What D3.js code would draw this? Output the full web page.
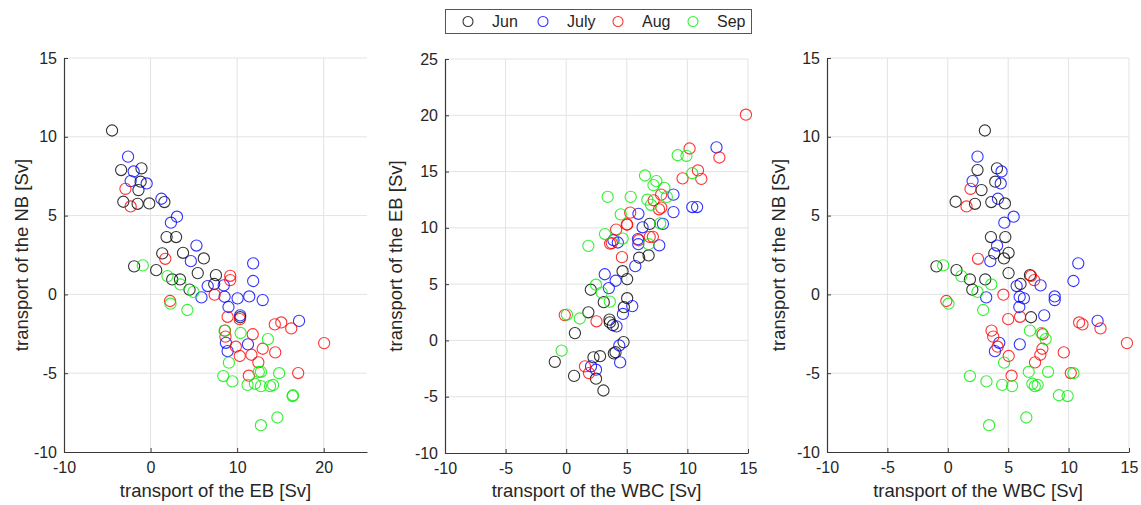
<!DOCTYPE html>
<html><head><meta charset="utf-8">
<script src="https://cdn.jsdelivr.net/npm/d3@7"></script>
<style>
body{margin:0;background:#fff}
svg text{font-family:"Liberation Sans",Arial,Helvetica,sans-serif;fill:#262626}
</style></head>
<body><svg id="chart" width="1141" height="505"></svg>
<script>
// ---- data: each point is [WBC, EB, NB] transport in Sv ----
const months = ["Jun", "July", "Aug", "Sep"];
const junPts = [
  [3.07,-4.45,10.4],[4.07,-1.05,8.0],[2.46,-3.4,7.89],[3.93,-1.15,7.15],[2.79,-1.4,6.62],
  [0.65,-3.15,5.88],[2.25,-1.5,5.75],[4.73,-0.15,5.77],[3.6,1.6,5.86],[3.57,1.85,3.64],
  [4.76,2.95,3.64],[3.85,1.35,2.6],[5.03,3.75,2.64],[4.65,6.15,2.28],[-0.94,-1.9,1.78],
  [0.72,0.65,1.54],[5.03,5.45,1.35],[6.8,7.55,1.22],[6.02,7.35,0.66],[1.83,2.5,0.95],
  [3.1,3.4,0.95],[2.03,4.5,0.3],[6.89,10.35,-1.45]
];
const julPts = [
  [2.46,-2.6,8.74],[4.45,-1.95,7.8],[2.05,-2.3,7.19],[4.38,-0.45,7.04],[4.15,1.25,6.07],
  [5.45,3.05,4.93],[4.68,2.35,4.55],[4.08,5.3,3.1],[3.52,4.65,2.11],[10.8,11.85,1.97],
  [10.4,11.85,0.85],[5.7,6.6,0.53],[7.68,8.45,0.57],[3.18,5.88,-0.19],[5.95,8.55,-0.15],
  [6.3,10.05,-0.25],[8.85,11.4,-0.13],[8.85,12.95,-0.36],[5.92,9.0,-0.8],[7.98,10.35,-1.33],
  [12.4,17.15,-1.68],[4.26,8.7,-3.07],[3.9,8.9,-3.6],[5.96,11.25,-3.17]
];
const augPts = [
  [1.88,-2.9,6.7],[1.55,-2.3,5.58],[2.5,1.7,2.26],[6.89,9.2,1.18],[7.15,9.2,0.91],
  [4.6,7.4,-0.02],[-0.12,2.25,-0.42],[5.98,8.9,-1.42],[5.0,10.3,-1.57],[10.87,15.1,-1.78],
  [11.15,14.35,-1.9],[12.64,16.25,-2.16],[14.83,20.05,-3.09],[3.62,8.6,-2.3],[3.76,8.65,-2.68],
  [7.85,11.8,-2.53],[4.12,9.85,-3.32],[7.83,12.95,-3.45],[9.6,14.4,-3.68],[5.04,10.3,-3.91],
  [7.66,11.65,-3.83],[7.22,12.45,-4.31],[10.18,17.05,-4.99],[5.28,11.35,-5.16]
];
const sepPts = [
  [-0.38,-0.9,1.84],[1.12,1.95,1.16],[3.6,3.45,0.63],[2.46,4.95,0.16],[0.06,2.3,-0.59],
  [2.93,4.25,-0.99],[6.8,8.55,-2.3],[7.75,10.4,-2.45],[8.1,13.55,-2.84],[4.66,9.05,-4.33],
  [1.83,8.4,-5.18],[3.2,9.45,-5.52],[6.7,12.5,-4.92],[8.3,12.75,-4.91],[10.4,14.85,-5.0],
  [4.5,11.2,-5.74],[7.0,12.05,-5.67],[5.32,12.75,-5.82],[7.2,13.8,-5.82],[7.44,14.15,-5.75],
  [9.2,16.45,-6.4],[9.92,16.4,-6.45],[6.5,14.65,-7.81],[3.42,12.75,-8.3]
];
const seriesPts = [junPts, julPts, augPts, sepPts];

// tick labels
const ebTicks = [-10, 0, 10, 20];
const wbcTicks = [-10, -5, 0, 5, 10, 15];
const nbTicks = [-10, -5, 0, 5, 10, 15];
const ebYTicks = [-10, -5, 0, 5, 10, 15, 20, 25];
const axisTitles = ["transport of the EB [Sv]", "transport of the WBC [Sv]", "transport of the NB [Sv]"];

// ---- styles / layout ----
const colors = ["#000000", "#0000ff", "#ff0000", "#00ee00"];
const panels = [
  {xi:1, yi:2, xd:[-10,25], yd:[-10,15], xt:ebTicks, yt:nbTicks, xl:axisTitles[0], yl:axisTitles[2],
   left:64, right:367, top:58, bottom:452, ylx:22},
  {xi:0, yi:1, xd:[-10,15], yd:[-10,25], xt:wbcTicks, yt:ebYTicks, xl:axisTitles[1], yl:"transport of the EB [Sv]",
   left:445, right:748, top:59, bottom:453, ylx:396},
  {xi:0, yi:2, xd:[-10,15], yd:[-10,15], xt:wbcTicks, yt:nbTicks, xl:axisTitles[1], yl:axisTitles[2],
   left:827, right:1129, top:58, bottom:452, ylx:779}
];

const svg = d3.select("#chart");
const tickFont = 16, labelFont = 18.5, markR = 5.6;

panels.forEach(p => {
  const x = d3.scaleLinear().domain(p.xd).range([p.left, p.right]);
  const y = d3.scaleLinear().domain(p.yd).range([p.bottom, p.top]);
  const g = svg.append("g");

  // grid
  g.append("g").selectAll("line").data(p.xt.filter(v => v !== p.xd[0])).join("line")
    .attr("x1", d => x(d)).attr("x2", d => x(d)).attr("y1", p.top).attr("y2", p.bottom)
    .attr("stroke", "#e3e3e3").attr("stroke-width", 1);
  g.append("g").selectAll("line").data(p.yt.filter(v => v !== p.yd[0])).join("line")
    .attr("y1", d => y(d)).attr("y2", d => y(d)).attr("x1", p.left).attr("x2", p.right)
    .attr("stroke", "#e3e3e3").attr("stroke-width", 1);

  // axes (ticks inward)
  const xa = g.append("g").attr("transform", `translate(0,${p.bottom})`)
    .call(d3.axisBottom(x).tickValues(p.xt).tickSizeInner(-4).tickSizeOuter(0).tickPadding(10).tickFormat(d3.format("d")));
  const ya = g.append("g").attr("transform", `translate(${p.left},0)`)
    .call(d3.axisLeft(y).tickValues(p.yt).tickSizeInner(-4).tickSizeOuter(0).tickPadding(7).tickFormat(d3.format("d")));
  [xa, ya].forEach(a => {
    a.select(".domain").attr("stroke", "#3a3a3a").attr("stroke-width", 1.2);
    a.selectAll(".tick line").attr("stroke", "#3a3a3a");
    a.selectAll(".tick text").attr("font-size", tickFont).attr("fill", "#262626")
      .style("font-family", '"Liberation Sans",Arial,sans-serif').text(d => d < 0 ? "-" + Math.abs(d) : d);
  });

  // axis labels
  g.append("text").attr("x", (p.left + p.right) / 2).attr("y", 497)
    .attr("text-anchor", "middle").attr("font-size", labelFont).text(p.xl);
  g.append("text").attr("transform", `translate(${p.ylx},${(p.top + p.bottom) / 2}) rotate(-90)`)
    .attr("text-anchor", "middle").attr("dy", "0.35em").attr("font-size", labelFont).text(p.yl);

  // points
  seriesPts.forEach((pts, si) => {
    g.append("g").selectAll("circle").data(pts).join("circle")
      .attr("cx", d => x(d[p.xi])).attr("cy", d => y(d[p.yi])).attr("r", markR)
      .attr("fill", "none").attr("stroke", colors[si]).attr("stroke-width", 1.1).attr("stroke-opacity", 0.8);
  });
});

// legend
const lg = svg.append("g");
lg.append("rect").attr("x", 445.5).attr("y", 9.5).attr("width", 306).attr("height", 24)
  .attr("fill", "#fff").attr("stroke", "#555").attr("stroke-width", 1);
const legX = d3.scalePoint().domain(months).range([468, 693]);
months.forEach((m, i) => {
  lg.append("circle").attr("cx", legX(m)).attr("cy", 21.5).attr("r", 5)
    .attr("fill", "none").attr("stroke", colors[i]).attr("stroke-width", 1.1).attr("stroke-opacity", 0.8);
  lg.append("text").attr("x", legX(m) + 24).attr("y", 27).attr("font-size", 16).text(m);
});
</script></body></html>
